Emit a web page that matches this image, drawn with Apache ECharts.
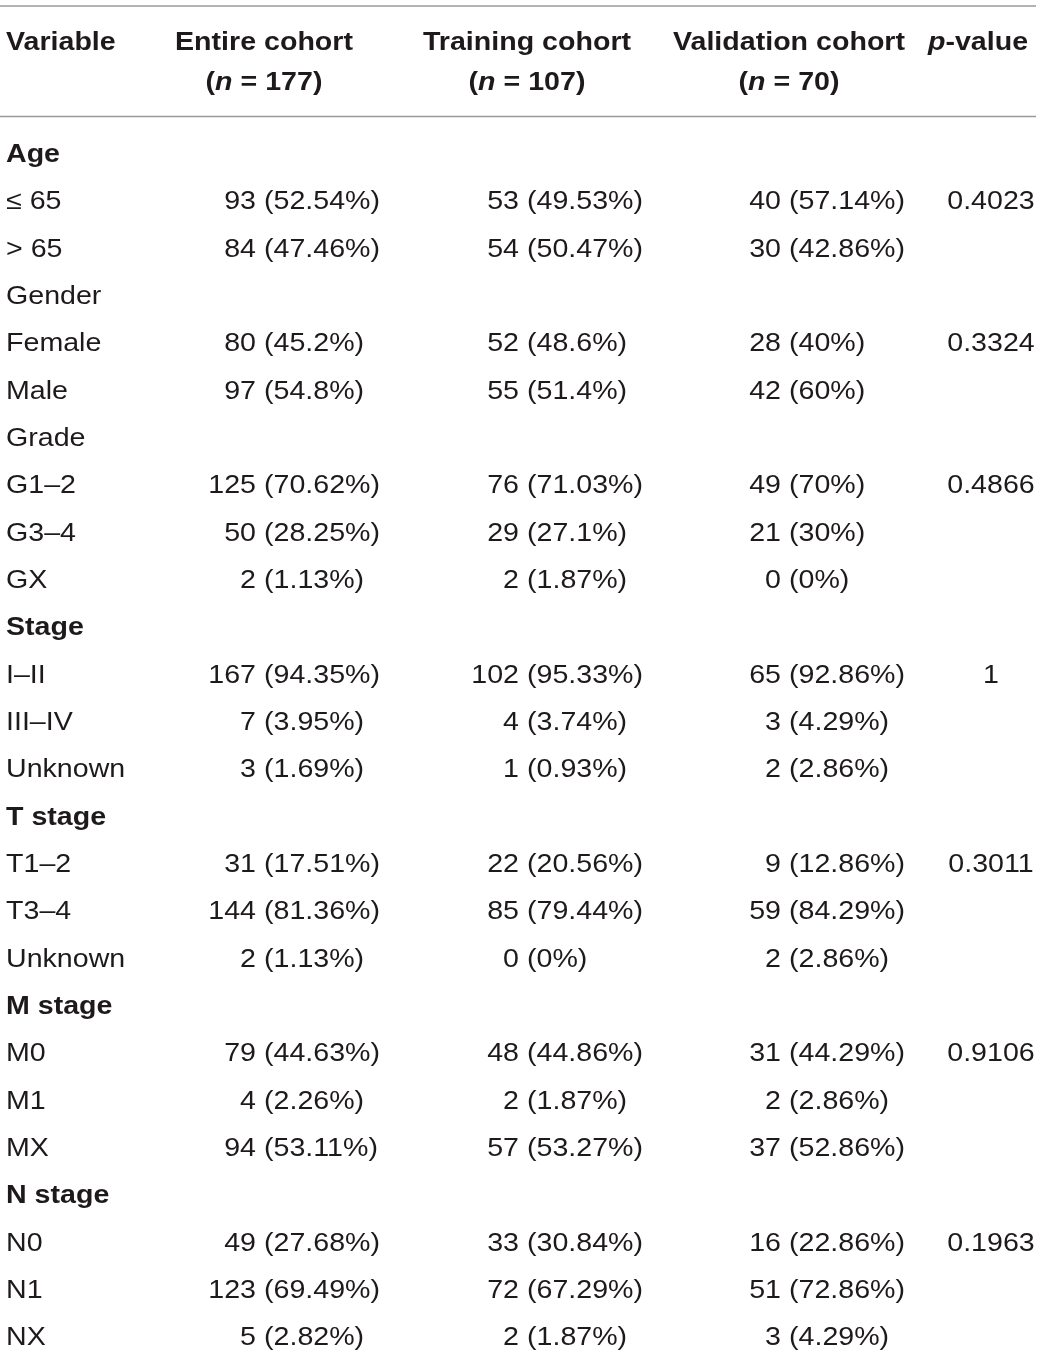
<!DOCTYPE html>
<html>
<head>
<meta charset="utf-8">
<title>Cohort characteristics</title>
<script src="https://cdn.jsdelivr.net/npm/echarts@6/dist/echarts.min.js"></script>
<style>
    html, body { margin: 0; padding: 0; background: #fff; }
    #main { width: 1041px; height: 1357px; }
</style>
</head>
<body>
<div id="main"></div>
<script>
// table content
var rowLabels = ['Age', '≤ 65', '> 65', 'Gender', 'Female', 'Male', 'Grade', 'G1–2', 'G3–4', 'GX',
    'Stage', 'I–II', 'III–IV', 'Unknown', 'T stage', 'T1–2', 'T3–4', 'Unknown',
    'M stage', 'M0', 'M1', 'MX', 'N stage', 'N0', 'N1', 'NX'];
var headingRows = [0, 10, 14, 18, 22];

var entireCount = [null, 93, 84, null, 80, 97, null, 125, 50, 2, null, 167, 7, 3, null, 31, 144, 2, null, 79, 4, 94, null, 49, 123, 5];
var entirePct = [null, 52.54, 47.46, null, 45.2, 54.8, null, 70.62, 28.25, 1.13, null, 94.35, 3.95, 1.69, null, 17.51, 81.36, 1.13, null, 44.63, 2.26, 53.11, null, 27.68, 69.49, 2.82];
var trainingCount = [null, 53, 54, null, 52, 55, null, 76, 29, 2, null, 102, 4, 1, null, 22, 85, 0, null, 48, 2, 57, null, 33, 72, 2];
var trainingPct = [null, 49.53, 50.47, null, 48.6, 51.4, null, 71.03, 27.1, 1.87, null, 95.33, 3.74, 0.93, null, 20.56, 79.44, 0, null, 44.86, 1.87, 53.27, null, 30.84, 67.29, 1.87];
var validationCount = [null, 40, 30, null, 28, 42, null, 49, 21, 0, null, 65, 3, 2, null, 9, 59, 2, null, 31, 2, 37, null, 16, 51, 3];
var validationPct = [null, 57.14, 42.86, null, 40, 60, null, 70, 30, 0, null, 92.86, 4.29, 2.86, null, 12.86, 84.29, 2.86, null, 44.29, 2.86, 52.86, null, 22.86, 72.86, 4.29];
var pValues = [null, '0.4023', null, null, '0.3324', null, null, '0.4866', null, null,
    null, '1', null, null, null, '0.3011', null, null, null, '0.9106', null, null, null, '0.1963', null, null];

var columnTitles = ['Variable', 'Entire cohort', 'Training cohort', 'Validation cohort', 'p-value'];
var columnN = [null, 177, 107, 70, null];

// layout
var colAnchor = [6, 265, 528, 790, 991];   // x where each body column is aligned
var headCenter = [6, 264, 527, 789, 978];
var FONT = "'Liberation Sans', Arial, Helvetica, sans-serif";
var FS = 26;
var SX = 1.1;          // glyphs in the source are a little wide
var INK = '#1e1a1b';
var RULE = '#9a9a9a';

var cohorts = [
    [entireCount, entirePct],
    [trainingCount, trainingPct],
    [validationCount, validationPct]
];

function textEl(x, y, text, align, bold) {
    return {
        type: 'text',
        x: x,
        y: y,
        scaleX: SX,
        style: {
            text: text,
            x: 0,
            y: 0,
            fill: INK,
            fontFamily: FONT,
            fontSize: FS,
            fontWeight: bold ? 'bold' : 'normal',
            align: align,
            verticalAlign: 'middle'
        }
    };
}

function renderRow(params, api) {
    var i = api.value(1);
    var y = api.coord([0, i])[1];
    var children = [];
    children.push(textEl(api.coord([colAnchor[0], i])[0], y, rowLabels[i], 'left', headingRows.indexOf(i) >= 0));

    cohorts.forEach(function (c, k) {
        var n = c[0][i];
        if (n === null) return;
        var x = api.coord([colAnchor[k + 1], i])[0];
        children.push(textEl(x - 9, y, String(n), 'right', false));
        children.push(textEl(x - 1, y, '(' + c[1][i] + '%)', 'left', false));
    });

    if (pValues[i] !== null) {
        children.push(textEl(api.coord([colAnchor[4], i])[0], y, pValues[i], 'center', false));
    }
    return { type: 'group', children: children };
}

// header + rules
var headerRich = {
    b: { fontFamily: FONT, fontSize: FS, fontWeight: 'bold', fill: INK },
    i: { fontFamily: FONT, fontSize: FS, fontWeight: 'bold', fontStyle: 'italic', fill: INK }
};
var graphics = [
    { type: 'line', shape: { x1: 0, y1: 6, x2: 1036, y2: 6 }, style: { stroke: RULE, lineWidth: 1.5 } },
    { type: 'line', shape: { x1: 0, y1: 116.5, x2: 1036, y2: 116.5 }, style: { stroke: RULE, lineWidth: 1.5 } }
];
columnTitles.forEach(function (t, k) {
    var title = k === 4 ? '{i|p}{b|-value}' : '{b|' + t + '}';
    graphics.push({
        type: 'text', x: headCenter[k], y: 43, scaleX: SX,
        style: { text: title, rich: headerRich, align: k === 0 ? 'left' : 'center', verticalAlign: 'middle' }
    });
    if (columnN[k] !== null) {
        graphics.push({
            type: 'text', x: headCenter[k], y: 83, scaleX: SX,
            style: { text: '{b|(}{i|n}{b| = ' + columnN[k] + ')}', rich: headerRich, align: 'center', verticalAlign: 'middle' }
        });
    }
});

var myChart = echarts.init(document.getElementById('main'));

var option = {
    backgroundColor: '#fff',
    animation: false,
    grid: {
        left: 0,
        right: 0,
        top: 155,
        bottom: 19
    },
    xAxis: {
        type: 'value',
        min: 0,
        max: 1041,
        show: false
    },
    yAxis: {
        type: 'category',
        inverse: true,
        boundaryGap: false,
        data: rowLabels.map(function (_, i) { return 'r' + i; }),
        show: false
    },
    graphic: graphics,
    series: [
        {
            type: 'custom',
            clip: false,
            silent: true,
            renderItem: renderRow,
            data: rowLabels.map(function (_, i) { return [0, i]; })
        }
    ]
};
myChart.setOption(option);
</script>
</body>
</html>
